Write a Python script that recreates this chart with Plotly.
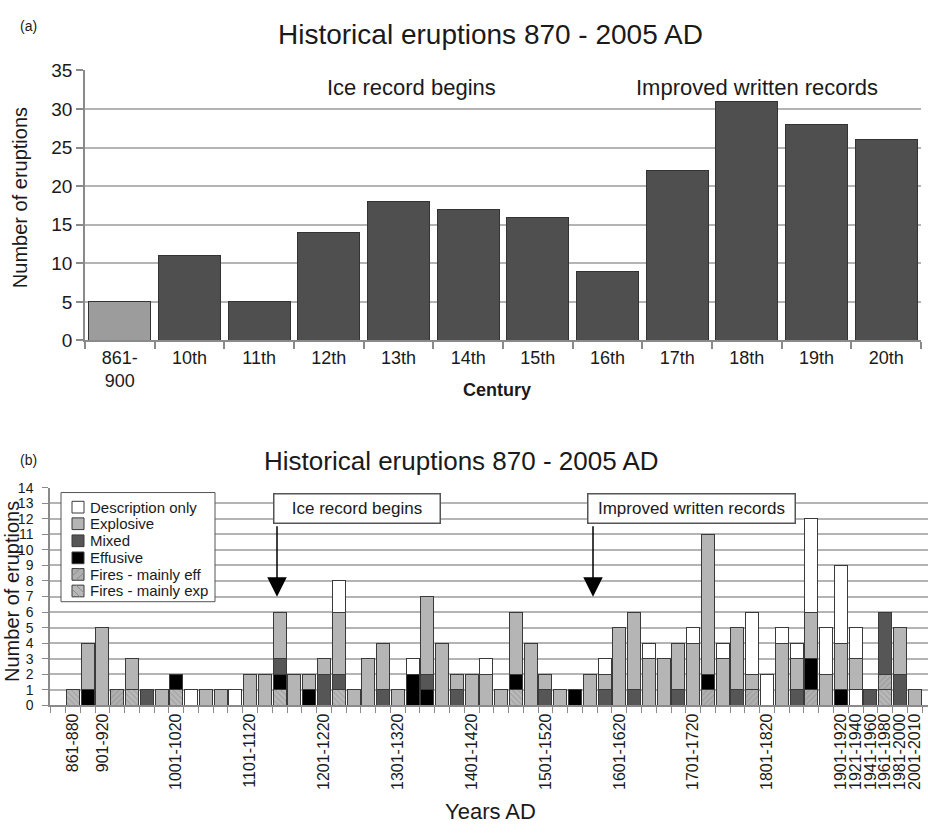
import plotly.graph_objects as go

W, H = 928, 834
FONT = "Liberation Sans, Arial, Helvetica, sans-serif"
INK = "#1a1a1a"

# ---- Panel (a): eruptions per century ----
century_labels = ["861-<br>900", "10th", "11th", "12th", "13th", "14th",
                  "15th", "16th", "17th", "18th", "19th", "20th"]
century_counts = [5, 11, 5, 14, 18, 17, 16, 9, 22, 31, 28, 26]

# ---- Panel (b): eruptions per 20-year interval, by eruption style ----
bin_labels = [
    "861-880", "881-900", "901-920", "921-940", "941-960", "961-980", "981-1000",
    "1001-1020", "1021-1040", "1041-1060", "1061-1080", "1081-1100",
    "1101-1120", "1121-1140", "1141-1160", "1161-1180", "1181-1200",
    "1201-1220", "1221-1240", "1241-1260", "1261-1280", "1281-1300",
    "1301-1320", "1321-1340", "1341-1360", "1361-1380", "1381-1400",
    "1401-1420", "1421-1440", "1441-1460", "1461-1480", "1481-1500",
    "1501-1520", "1521-1540", "1541-1560", "1561-1580", "1581-1600",
    "1601-1620", "1621-1640", "1641-1660", "1661-1680", "1681-1700",
    "1701-1720", "1721-1740", "1741-1760", "1761-1780", "1781-1800",
    "1801-1820", "1821-1840", "1841-1860", "1861-1880", "1881-1900",
    "1901-1920", "1921-1940", "1941-1960", "1961-1980", "1981-2000",
    "2001-2010",
]
labelled_bins = ["861-880", "901-920", "1001-1020", "1101-1120", "1201-1220",
                 "1301-1320", "1401-1420", "1501-1520", "1601-1620",
                 "1701-1720", "1801-1820", "1901-1920", "1921-1940",
                 "1941-1960", "1961-1980", "1981-2000", "2001-2010"]

description_lower = [0, 0, 0, 0, 0, 0, 0, 0, 0, 0,
                     0, 0, 0, 0, 0, 0, 0, 0, 0, 0,
                     0, 0, 0, 0, 0, 0, 0, 0, 0, 0,
                     0, 0, 0, 0, 0, 0, 0, 0, 0, 0,
                     0, 0, 0, 0, 0, 0, 0, 0, 0, 0,
                     0, 0, 0, 1, 0, 0, 0, 0]
fires_exp = [1, 0, 0, 0, 1, 0, 0, 1, 0, 0,
             0, 0, 0, 0, 1, 0, 0, 0, 1, 0,
             0, 0, 0, 0, 0, 0, 0, 0, 0, 0,
             1, 0, 0, 0, 0, 0, 0, 0, 0, 0,
             0, 0, 0, 0, 0, 0, 0, 0, 0, 0,
             0, 0, 0, 0, 0, 1, 0, 0]
fires_eff = [0, 0, 0, 1, 0, 0, 0, 0, 0, 0,
             0, 0, 0, 0, 0, 0, 0, 0, 0, 0,
             0, 0, 0, 0, 0, 0, 0, 0, 0, 0,
             0, 0, 0, 0, 0, 0, 0, 0, 0, 0,
             0, 0, 0, 1, 0, 0, 1, 0, 0, 0,
             1, 0, 0, 0, 0, 1, 0, 0]
effusive = [0, 1, 0, 0, 0, 0, 0, 1, 0, 0,
            0, 0, 0, 0, 1, 0, 1, 0, 0, 0,
            0, 0, 0, 2, 1, 0, 0, 0, 0, 0,
            1, 0, 0, 0, 1, 0, 0, 0, 0, 0,
            0, 0, 0, 1, 0, 0, 0, 0, 0, 0,
            2, 0, 1, 0, 0, 0, 0, 0]
mixed = [0, 0, 0, 0, 0, 1, 0, 0, 0, 0,
         0, 0, 0, 0, 1, 0, 0, 2, 1, 0,
         0, 1, 0, 0, 1, 0, 1, 0, 0, 0,
         0, 0, 1, 0, 0, 0, 1, 0, 1, 0,
         0, 1, 0, 0, 0, 1, 0, 0, 0, 1,
         0, 0, 0, 0, 1, 4, 2, 0]
explosive = [0, 3, 5, 0, 2, 0, 1, 0, 0, 1,
             1, 0, 2, 2, 3, 2, 1, 1, 4, 1,
             3, 3, 1, 0, 5, 4, 1, 2, 2, 1,
             4, 4, 1, 1, 0, 2, 1, 5, 5, 3,
             3, 3, 4, 9, 3, 4, 1, 0, 4, 2,
             3, 2, 3, 2, 0, 0, 3, 1]
description = [0, 0, 0, 0, 0, 0, 0, 0, 1, 0,
               0, 1, 0, 0, 0, 0, 0, 0, 2, 0,
               0, 0, 0, 1, 0, 0, 0, 0, 1, 0,
               0, 0, 0, 0, 0, 0, 1, 0, 0, 1,
               0, 0, 1, 0, 1, 0, 4, 2, 1, 1,
               6, 3, 5, 2, 0, 0, 0, 0]

# Colours for each eruption style
C_DESC, C_EXPL, C_MIX, C_EFF = "#ffffff", "#b5b5b5", "#565656", "#000000"
C_FIRE_EFF, C_FIRE_EXP = "#b0b0b0", "#b9b9b9"
EDGE = "#3a3a3a"


def px_x(x):
    return x / W


def px_y(y):
    return 1 - y / H


fig = go.Figure()

# Panel (a) bars
century_pos = list(range(len(century_labels)))
fig.add_trace(go.Bar(
    x=century_pos, y=century_counts, width=0.89,
    marker=dict(color=["#9c9c9c"] + ["#4f4f4f"] * (len(century_counts) - 1),
                line=dict(color="#333333", width=1)),
    xaxis="x", yaxis="y", showlegend=False, hoverinfo="x+y",
))

# Panel (b) stacked bars, bottom of stack first
bin_pos = list(range(len(bin_labels)))
series_b = [
    ("Description only", description_lower, dict(color=C_DESC)),
    ("Fires - mainly exp", fires_exp,
     dict(color=C_FIRE_EXP, pattern=dict(shape="\\", fgcolor="#8c8c8c",
                                          bgcolor=C_FIRE_EXP, size=4, solidity=0.3))),
    ("Fires - mainly eff", fires_eff,
     dict(color=C_FIRE_EFF, pattern=dict(shape="/", fgcolor="#8a8a8a",
                                          bgcolor=C_FIRE_EFF, size=4, solidity=0.3))),
    ("Effusive", effusive, dict(color=C_EFF)),
    ("Mixed", mixed, dict(color=C_MIX)),
    ("Explosive", explosive, dict(color=C_EXPL)),
    ("Description only", description, dict(color=C_DESC)),
]
for name, vals, mk in series_b:
    mk = dict(mk, line=dict(color=EDGE, width=1))
    fig.add_trace(go.Bar(
        x=bin_pos, y=vals, name=name, width=0.88, marker=mk,
        xaxis="x2", yaxis="y2", showlegend=False,
    ))

tick_pos_b = [bin_labels.index(lbl) for lbl in labelled_bins]

grid = "#b4b4b4"
axis_line = "#8a8a8a"

fig.update_layout(
    width=W, height=H,
    margin=dict(l=0, r=0, t=0, b=0),
    paper_bgcolor="white", plot_bgcolor="white",
    font=dict(family=FONT, color=INK),
    barmode="stack",
    showlegend=False,
    xaxis=dict(
        domain=[px_x(85), px_x(921)], anchor="y",
        range=[-0.5, len(century_labels) - 0.5],
        tickmode="array", tickvals=century_pos, ticktext=century_labels,
        ticks="", tickfont=dict(size=18, color=INK),
        showline=True, linecolor=axis_line, linewidth=1.5,
        showgrid=False, zeroline=False, fixedrange=True,
        minor=dict(tickmode="array",
                   tickvals=[k - 0.5 for k in range(len(century_labels) + 1)],
                   ticks="outside", ticklen=7, tickcolor=axis_line, tickwidth=1.5,
                   showgrid=False),
    ),
    yaxis=dict(
        domain=[px_y(339), px_y(62)], anchor="x",
        range=[0, 35], tickmode="linear", tick0=0, dtick=5,
        ticks="outside", ticklen=7, tickcolor=axis_line, tickwidth=1.5,
        tickfont=dict(size=19, color=INK),
        showgrid=True, gridcolor=grid, gridwidth=1.5,
        showline=True, linecolor=axis_line, linewidth=1.5,
        zeroline=False, fixedrange=True,
    ),
    xaxis2=dict(
        domain=[px_x(50), 1.0], anchor="y2",
        range=[-1.55, 57.9],
        tickmode="array", tickvals=tick_pos_b, ticktext=labelled_bins,
        tickangle=-90, ticks="", tickfont=dict(size=16, color=INK),
        showline=True, linecolor=axis_line, linewidth=1.5,
        showgrid=False, zeroline=False, fixedrange=True,
        minor=dict(tickmode="array",
                   tickvals=[k - 0.5 for k in range(-1, len(bin_labels) + 1)],
                   ticks="outside", ticklen=6, tickcolor=axis_line, tickwidth=1.2,
                   showgrid=False),
    ),
    yaxis2=dict(
        domain=[px_y(713.3), px_y(490)], anchor="x2",
        range=[0, 14], tickmode="linear", tick0=0, dtick=1,
        ticks="outside", ticklen=6, tickcolor=axis_line, tickwidth=1.2,
        tickfont=dict(size=14, color=INK), ticklabelstandoff=6,
        showgrid=True, gridcolor=grid, gridwidth=1.5,
        showline=True, linecolor=axis_line, linewidth=1.5,
        zeroline=False, fixedrange=True,
    ),
)

ann = []
shapes = []


def text(x, y, s, size, **kw):
    d = dict(x=px_x(x), y=px_y(y), xref="paper", yref="paper", text=s,
             showarrow=False, font=dict(size=size, color=INK, family=FONT),
             xanchor="center", yanchor="middle")
    d.update(kw)
    ann.append(d)


def rect(x0, y0, x1, y1, fill, line_color, lw=1):
    shapes.append(dict(type="rect", xref="paper", yref="paper", layer="above",
                       x0=px_x(x0), x1=px_x(x1), y0=px_y(y0), y1=px_y(y1),
                       fillcolor=fill, line=dict(color=line_color, width=lw)))


def seg(x0, y0, x1, y1, color, lw=1):
    shapes.append(dict(type="line", xref="paper", yref="paper", layer="above",
                       x0=px_x(x0), x1=px_x(x1), y0=px_y(y0), y1=px_y(y1),
                       line=dict(color=color, width=lw)))


# Panel labels and titles
text(18, 16, "(a)", 14, xanchor="left")
text(490, 25, "Historical eruptions 870 - 2005 AD", 28)
text(18, 462, "(b)", 14, xanchor="left")
text(461, 463, "Historical eruptions 870 - 2005 AD", 26)

# Axis titles
text(20, 193, "Number of eruptions", 20, textangle=-90)
text(497, 390, "<b>Century</b>", 18)
text(12, 597, "Number of eruptions", 20, textangle=-90)
text(490, 837, "Years AD", 22, yanchor="bottom")

# Panel (a) notes
text(411, 80, "Ice record begins", 22)
text(757, 80, "Improved written records", 22)

# Panel (b) boxed notes
for cx, w, s in [(356.5, 163, "Ice record begins"),
                 (691, 204, "Improved written records")]:
    ann.append(dict(x=px_x(cx), y=px_y(511), xref="paper", yref="paper",
                    text=s, showarrow=False, width=w, height=26,
                    font=dict(size=17, color=INK, family=FONT),
                    bgcolor="white", bordercolor="#555555", borderwidth=1.5,
                    borderpad=1, xanchor="center", yanchor="middle"))

# Arrows pointing down to the chart
for ax_px in [277, 593]:
    ann.append(dict(x=px_x(ax_px), y=px_y(602), xref="paper", yref="paper",
                    text="", showarrow=True, ax=0, ay=-72,
                    arrowhead=2, arrowsize=2.6, arrowwidth=1.5,
                    arrowcolor="#000000"))

# Legend for panel (b)
legend_items = [
    ("Description only", C_DESC, None),
    ("Explosive", C_EXPL, None),
    ("Mixed", C_MIX, None),
    ("Effusive", C_EFF, None),
    ("Fires - mainly eff", C_FIRE_EFF, "/"),
    ("Fires - mainly exp", C_FIRE_EXP, "\\"),
]
rect(61, 495, 215, 607, "white", "#555555", 1)
row_y = [510, 527, 544.5, 562, 579, 596]
for (label, col, hatch), yc in zip(legend_items, row_y):
    rect(72, yc - 6, 84, yc + 6, col, EDGE, 1)
    if hatch == "/":
        seg(72, yc + 2, 80, yc - 6, "#8a8a8a", 1)
        seg(76, yc + 6, 84, yc - 2, "#8a8a8a", 1)
    elif hatch == "\\":
        seg(72, yc - 2, 80, yc + 6, "#8c8c8c", 1)
        seg(76, yc - 6, 84, yc + 2, "#8c8c8c", 1)
    text(88, yc, label, 15, xanchor="left")

fig.update_layout(annotations=ann, shapes=shapes)

fig.write_html("out.html")
